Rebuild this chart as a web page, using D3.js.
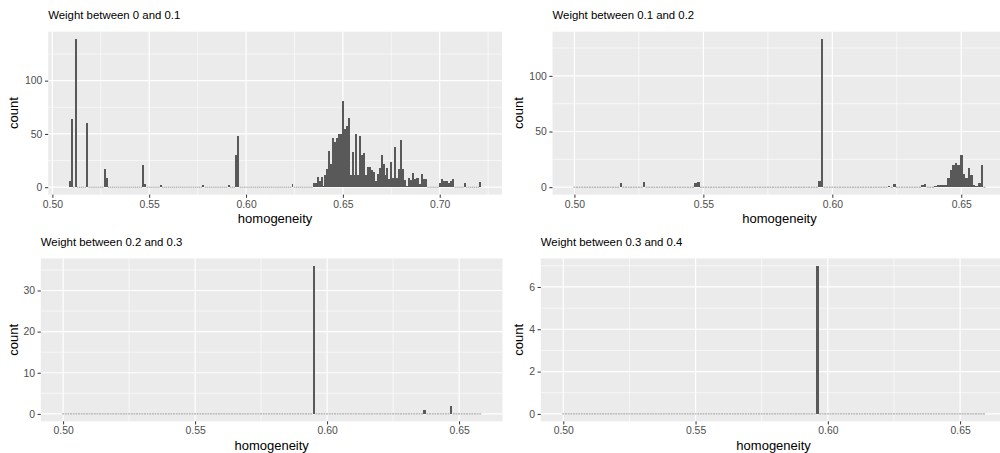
<!DOCTYPE html>
<html>
<head>
<meta charset="utf-8">
<script src="https://cdn.jsdelivr.net/npm/d3@7"></script>
<style>
  body { margin: 0; background: #fff; }
  svg text { font-family: "Liberation Sans", Arial, Helvetica, sans-serif; }
</style>
</head>
<body>
<div id="chart"></div>
<script>
// Histogram bin width (homogeneity units)
const binWidth = 0.001;

// Weight between 0 and 0.1 : non-empty bins
const homog01 = [0.509, 0.510, 0.512, 0.518, 0.527, 0.528, 0.547, 0.548, 0.556, 0.578, 0.591, 0.595, 0.596, 0.624,
  0.635, 0.636, 0.637, 0.638, 0.639, 0.640, 0.641, 0.642, 0.643, 0.644, 0.645, 0.646, 0.647, 0.648, 0.649,
  0.650, 0.651, 0.652, 0.653, 0.654, 0.655, 0.656, 0.657, 0.658, 0.659, 0.660, 0.661, 0.662, 0.663, 0.664,
  0.665, 0.666, 0.667, 0.668, 0.669, 0.670, 0.671, 0.672, 0.673, 0.674, 0.675, 0.676, 0.677, 0.678, 0.679,
  0.680, 0.681, 0.682, 0.683, 0.684, 0.685, 0.686, 0.687, 0.688, 0.689, 0.690, 0.691, 0.692, 0.693,
  0.700, 0.701, 0.702, 0.703, 0.704, 0.705, 0.706, 0.707, 0.713, 0.721];
const count01 = [6, 64, 139, 60, 17, 9, 21, 3, 2, 2, 2, 30, 48, 3,
  4, 4, 10, 6, 10, 1, 11, 17, 34, 22, 46, 42, 46, 50,
  50, 81, 55, 57, 65, 11, 33, 11, 50, 11, 48, 30, 32, 11, 19, 19,
  16, 14, 6, 12, 18, 30, 22, 11, 18, 8, 24, 9, 38, 9, 17,
  44, 17, 7, 1, 9, 7, 13, 8, 9, 9, 3, 12, 8, 8,
  4, 8, 6, 6, 6, 4, 6, 8, 4, 5];
const range01 = [0.509, 0.721];

// Weight between 0.1 and 0.2
const homog02 = [0.518, 0.527, 0.547, 0.548, 0.595, 0.596, 0.622, 0.624, 0.635, 0.636, 0.640, 0.641, 0.642,
  0.643, 0.644, 0.645, 0.646, 0.647, 0.648, 0.649, 0.650, 0.651, 0.652, 0.653, 0.654, 0.655, 0.656, 0.657, 0.658];
const count02 = [4, 5, 4, 5, 6, 133, 1, 3, 2, 3, 1, 2, 2,
  2, 2, 8, 15, 20, 22, 20, 29, 12, 8, 17, 11, 2, 1, 4, 20];
const range02 = [0.500, 0.659];

// Weight between 0.2 and 0.3
const homog03 = [0.595, 0.637, 0.647];
const count03 = [36, 1, 2];
const range03 = [0.500, 0.658];

// Weight between 0.3 and 0.4
const homog04 = [0.596];
const count04 = [7];
const range04 = [0.500, 0.659];

const titles = ["Weight between 0 and 0.1", "Weight between 0.1 and 0.2",
                "Weight between 0.2 and 0.3", "Weight between 0.3 and 0.4"];
const xTicks01 = [0.50, 0.55, 0.60, 0.65, 0.70];
const xTicks = [0.50, 0.55, 0.60, 0.65];
const yTicks01 = [0, 50, 100];
const yTicks02 = [0, 50, 100];
const yTicks03 = [0, 10, 20, 30];
const yTicks04 = [0, 2, 4, 6];

const panels = [
  { title: titles[0], homog: homog01, count: count01, range: range01, xt: xTicks01, yt: yTicks01 },
  { title: titles[1], homog: homog02, count: count02, range: range02, xt: xTicks, yt: yTicks02 },
  { title: titles[2], homog: homog03, count: count03, range: range03, xt: xTicks, yt: yTicks03 },
  { title: titles[3], homog: homog04, count: count04, range: range04, xt: xTicks, yt: yTicks04 }
];

// Panel boxes in pixels (the right column runs past the picture edge)
const boxes = [
  { left: 48.2, right: 502, top: 31.7, bottom: 194.6, col: 0 },
  { left: 552.5, right: 1006.4, top: 31.7, bottom: 194.6, col: 505 },
  { left: 40.8, right: 502.5, top: 258.4, bottom: 421.3, col: 0 },
  { left: 540.8, right: 1006.4, top: 258.4, bottom: 421.3, col: 505 }
];

const width = 1000, height = 453;
const svg = d3.select("#chart").append("svg")
    .attr("width", width)
    .attr("height", height)
    .style("display", "block");

const tickLen = 3.2, tickPad = 2.6;

panels.forEach(function(p, i) {
  const b = boxes[i];
  const w = b.right - b.left, h = b.bottom - b.top;

  // all bins between first and last, empty ones get 0
  const lookup = new Map(p.homog.map((v, j) => [Math.round(v / binWidth), p.count[j]]));
  const k0 = Math.round(p.range[0] / binWidth), k1 = Math.round(p.range[1] / binWidth);
  const bins = d3.range(k0, k1 + 1).map(k => ({ x: k * binWidth, n: lookup.get(k) || 0 }));

  // ggplot style 5% expansion
  const lo = p.range[0] - binWidth / 2, hi = p.range[1] + binWidth / 2;
  const ex = (hi - lo) * 0.05;
  const x = d3.scaleLinear().domain([lo - ex, hi + ex]).range([0, w]);
  const ymax = d3.max(bins, d => d.n);
  const y = d3.scaleLinear().domain([-ymax * 0.05, ymax * 1.05]).range([h, 0]);

  const g = svg.append("g")
    .attr("transform", "translate(" + b.left + "," + b.top + ")");

  g.append("rect")
    .attr("width", w)
    .attr("height", h)
    .attr("fill", "#EBEBEB");

  // minor grid
  const xs = p.xt[1] - p.xt[0], ys = p.yt[1] - p.yt[0];
  const xMinor = d3.range(p.xt[0] - xs / 2, hi + ex, xs).filter(v => v > lo - ex && v < hi + ex && !p.xt.some(t => Math.abs(t - v) < 1e-9));
  const yMinor = d3.range(p.yt[0] - ys / 2, ymax * 1.05, ys).filter(v => v > -ymax * 0.05);

  g.selectAll(".xminor").data(xMinor).join("line")
    .attr("x1", d => x(d)).attr("x2", d => x(d))
    .attr("y1", 0).attr("y2", h)
    .attr("stroke", "#fff").attr("stroke-width", 0.6);
  g.selectAll(".yminor").data(yMinor).join("line")
    .attr("x1", 0).attr("x2", w)
    .attr("y1", d => y(d)).attr("y2", d => y(d))
    .attr("stroke", "#fff").attr("stroke-width", 0.6);

  // major grid
  g.selectAll(".xmajor").data(p.xt).join("line")
    .attr("x1", d => x(d)).attr("x2", d => x(d))
    .attr("y1", 0).attr("y2", h)
    .attr("stroke", "#fff").attr("stroke-width", 1.2);
  g.selectAll(".ymajor").data(p.yt).join("line")
    .attr("x1", 0).attr("x2", w)
    .attr("y1", d => y(d)).attr("y2", d => y(d))
    .attr("stroke", "#fff").attr("stroke-width", 1.2);

  // empty bins show as a faint dotted baseline
  g.selectAll(".zero").data(bins.filter(d => d.n === 0)).join("rect")
    .attr("x", d => x(d.x - binWidth / 2) + 0.3)
    .attr("width", d => Math.max(0.5, x(d.x + binWidth / 2) - x(d.x - binWidth / 2) - 0.6))
    .attr("y", y(0) - 0.5)
    .attr("height", 1)
    .attr("fill", "#595959")
    .attr("opacity", 0.6);

  // bars
  g.selectAll(".bar").data(bins.filter(d => d.n > 0)).join("rect")
    .attr("x", d => x(d.x - binWidth / 2))
    .attr("width", d => x(d.x + binWidth / 2) - x(d.x - binWidth / 2))
    .attr("y", d => y(d.n))
    .attr("height", d => y(0) - y(d.n))
    .attr("fill", "#595959")
    .attr("shape-rendering", "crispEdges");

  // axes
  const xAxis = d3.axisBottom(x).tickValues(p.xt).tickFormat(d3.format(".2f"))
    .tickSize(tickLen).tickPadding(tickPad);
  const yAxis = d3.axisLeft(y).tickValues(p.yt).tickFormat(d3.format("d"))
    .tickSize(tickLen).tickPadding(tickPad);

  const xa = g.append("g").attr("transform", "translate(0," + h + ")").call(xAxis);
  const ya = g.append("g").call(yAxis);
  [xa, ya].forEach(function(a) {
    a.select(".domain").remove();
    a.selectAll("line").attr("stroke", "#333333").attr("stroke-width", 1);
    a.selectAll("text").attr("fill", "#4D4D4D").style("font-size", "10.4px");
  });

  // titles
  svg.append("text")
    .attr("x", b.left)
    .attr("y", b.top - 12.4)
    .style("font-size", "11.4px")
    .attr("fill", "#000")
    .text(p.title);

  svg.append("text")
    .attr("x", b.left + w / 2)
    .attr("y", b.bottom + 28.5)
    .attr("text-anchor", "middle")
    .style("font-size", "13px")
    .attr("fill", "#000")
    .text("homogeneity");

  svg.append("text")
    .attr("transform", "translate(" + (b.col + 15) + "," + (b.top + h / 2) + ") rotate(-90)")
    .attr("text-anchor", "middle")
    .attr("dy", "0.26em")
    .style("font-size", "13px")
    .attr("fill", "#000")
    .text("count");
});
</script>
</body>
</html>
